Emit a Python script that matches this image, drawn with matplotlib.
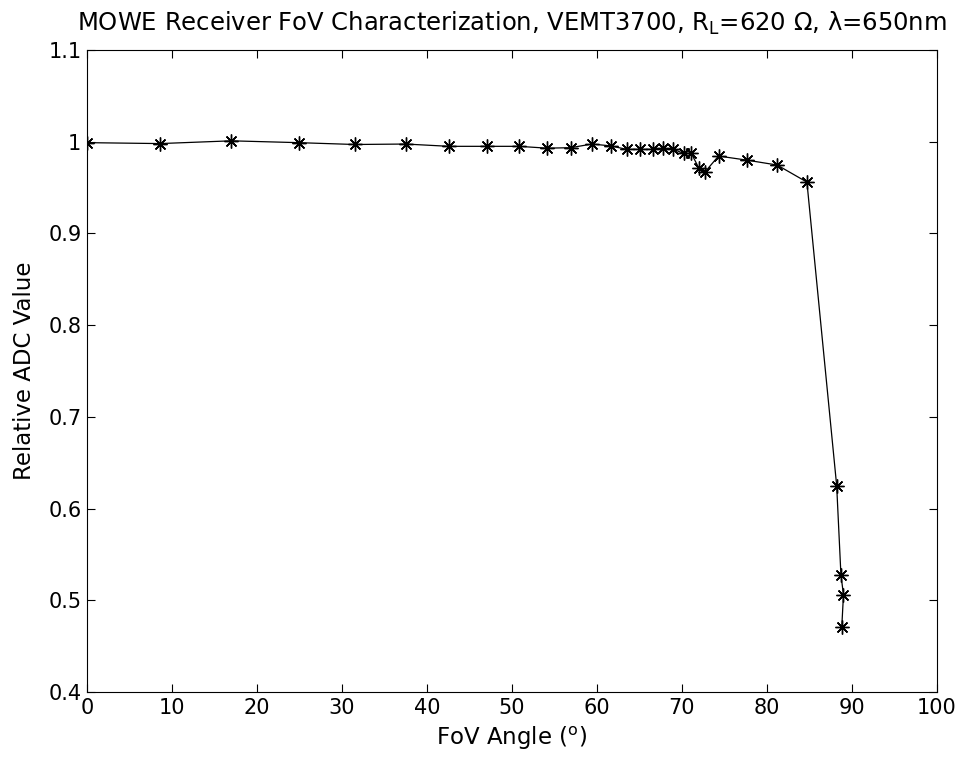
import matplotlib
matplotlib.use("Agg")
import matplotlib.pyplot as plt

# FoV angle (degrees) and relative ADC value
angle = [0.0, 8.6, 17.0, 24.9, 31.5, 37.5, 42.6, 47.1, 50.8, 54.1, 56.9, 59.4,
         61.6, 63.5, 65.1, 66.6, 67.8, 69.0, 70.2, 71.1, 72.0, 72.7, 74.3,
         77.6, 81.2, 84.7, 88.2, 88.7, 89.0, 88.8]
adc = [0.999, 0.998, 1.001, 0.999, 0.997, 0.9975, 0.995, 0.995, 0.995, 0.993,
       0.9935, 0.9975, 0.9955, 0.9917, 0.9917, 0.9917, 0.9928, 0.9917, 0.9873,
       0.9873, 0.971, 0.967, 0.9844, 0.980, 0.9746, 0.956, 0.625, 0.528,
       0.506, 0.471]

x_ticks = [0, 10, 20, 30, 40, 50, 60, 70, 80, 90, 100]
y_ticks = [0.4, 0.5, 0.6, 0.7, 0.8, 0.9, 1.0, 1.1]
y_tick_labels = ["0.4", "0.5", "0.6", "0.7", "0.8", "0.9", "1", "1.1"]

plt.rcParams["font.family"] = ["DejaVu Sans"]
plt.rcParams["mathtext.default"] = "regular"

fig = plt.figure(figsize=(9.61, 7.78), dpi=100)
ax = fig.add_axes([0.0905, 0.1105, 0.8845, 0.8252])

# MATLAB style '*' marker: plus and cross on top of each other
ax.plot(angle, adc, color="black", linewidth=0.9, marker=(8, 2, 0),
        markersize=10, markeredgewidth=1.0)

ax.set_xlim(0, 100)
ax.set_ylim(0.4, 1.1)
ax.set_xticks(x_ticks)
ax.set_yticks(y_ticks)
ax.set_yticklabels(y_tick_labels)
ax.tick_params(direction="in", top=True, right=True, length=6, width=0.8,
               labelsize=15, pad=4)
for s in ax.spines.values():
    s.set_linewidth(0.8)

ax.set_xlabel("FoV Angle ($^{o}$)", fontsize=16.5, labelpad=5)
ax.set_ylabel("Relative ADC Value", fontsize=16.5, labelpad=9)
ax.set_title("MOWE Receiver FoV Characterization, VEMT3700, R$_{L}$=620 \u03a9, \u03bb=650nm",
             fontsize=17.5, pad=14)

fig.savefig("out.png", dpi=100)
